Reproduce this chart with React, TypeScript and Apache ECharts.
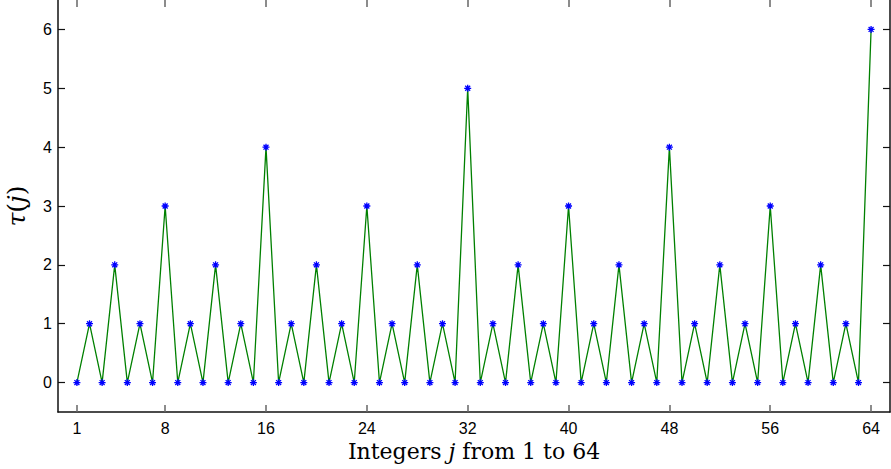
import React, { useEffect, useRef } from "react";
import * as echarts from "echarts";

const jValues: number[] = [
  1, 2, 3, 4, 5, 6, 7, 8, 9, 10, 11, 12, 13, 14, 15, 16,
  17, 18, 19, 20, 21, 22, 23, 24, 25, 26, 27, 28, 29, 30, 31, 32,
  33, 34, 35, 36, 37, 38, 39, 40, 41, 42, 43, 44, 45, 46, 47, 48,
  49, 50, 51, 52, 53, 54, 55, 56, 57, 58, 59, 60, 61, 62, 63, 64,
];
const tauValues: number[] = [
  0, 1, 0, 2, 0, 1, 0, 3, 0, 1, 0, 2, 0, 1, 0, 4,
  0, 1, 0, 2, 0, 1, 0, 3, 0, 1, 0, 2, 0, 1, 0, 5,
  0, 1, 0, 2, 0, 1, 0, 3, 0, 1, 0, 2, 0, 1, 0, 4,
  0, 1, 0, 2, 0, 1, 0, 3, 0, 1, 0, 2, 0, 1, 0, 6,
];
const xTicks: number[] = [1, 8, 16, 24, 32, 40, 48, 56, 64];
const yTicks: number[] = [0, 1, 2, 3, 4, 5, 6];

const ASTERISK =
  "path://M0,-1L0,1M-1,0L1,0M-0.7071,-0.7071L0.7071,0.7071M-0.7071,0.7071L0.7071,-0.7071";

export default function App() {
  const ref = useRef<HTMLDivElement>(null);
  useEffect(() => {
    if (!ref.current) return;
    const chart = echarts.init(ref.current, null, { renderer: "svg" });
    const tickFont = { fontFamily: "Liberation Sans", fontSize: 16, color: "#000" };
    const xAxisBase = {
      type: "value" as const,
      min: -0.5,
      max: 65.5,
      splitLine: { show: false },
    };
    const yAxisBase = {
      type: "value" as const,
      min: -0.5,
      max: 6.5,
      splitLine: { show: false },
      axisLine: { show: true, onZero: false, lineStyle: { color: "#111", width: 1.5 } },
    };
    chart.setOption({
      animation: false,
      backgroundColor: "#fff",
      grid: { left: 58, right: 1, top: 0, bottom: 57, containLabel: false, outerBoundsMode: "none" },
      xAxis: [
        {
          ...xAxisBase,
          position: "bottom",
          axisLine: { show: true, onZero: false, lineStyle: { color: "#111", width: 1.5 } },
          axisTick: { show: true, inside: true, length: 7, customValues: xTicks, lineStyle: { color: "#666", width: 1.5 } },
          axisLabel: { ...tickFont, margin: 8, customValues: xTicks },
          name: "{r|Integers }{i|j}{r| from 1 to 64}",
          nameLocation: "middle",
          nameGap: 21,
          nameTextStyle: {
            rich: {
              r: { fontFamily: "DejaVu Serif", fontSize: 22, color: "#000" },
              i: { fontFamily: "DejaVu Serif", fontStyle: "italic", fontSize: 22, color: "#000" },
            },
          },
        },
        {
          ...xAxisBase,
          position: "top",
          axisLine: { show: false, onZero: false },
          axisTick: { show: true, inside: true, length: 7, customValues: xTicks, lineStyle: { color: "#666", width: 1.5 } },
          axisLabel: { show: false },
        },
      ],
      yAxis: [
        {
          ...yAxisBase,
          position: "left",
          axisTick: { show: true, inside: true, length: 7, customValues: yTicks, lineStyle: { color: "#111", width: 1.2 } },
          axisLabel: { ...tickFont, margin: 6, customValues: yTicks },
          name: "{i|τ}{r|(}{i|j}{r|)}",
          nameLocation: "middle",
          nameGap: 29,
          nameRotate: 90,
          nameTextStyle: {
            rich: {
              r: { fontFamily: "DejaVu Serif", fontSize: 25, color: "#000" },
              i: { fontFamily: "DejaVu Serif", fontStyle: "italic", fontSize: 25, color: "#000" },
            },
          },
        },
        {
          ...yAxisBase,
          position: "right",
          axisTick: { show: true, inside: true, length: 7, customValues: yTicks, lineStyle: { color: "#111", width: 1.2 } },
          axisLabel: { show: false },
        },
      ],
      series: [
        {
          type: "line",
          xAxisIndex: 0,
          yAxisIndex: 0,
          data: jValues.map((j, i) => [j, tauValues[i]]),
          lineStyle: { color: "#008000", width: 1.3 },
          symbol: ASTERISK,
          symbolSize: 7,
          itemStyle: { color: "none", borderColor: "#0000ff", borderWidth: 1.3 },
          z: 3,
        },
      ],
    });
    return () => chart.dispose();
  }, []);
  return <div ref={ref} style={{ width: 891, height: 469, position: "absolute", left: 0, top: 0 }} />;
}
